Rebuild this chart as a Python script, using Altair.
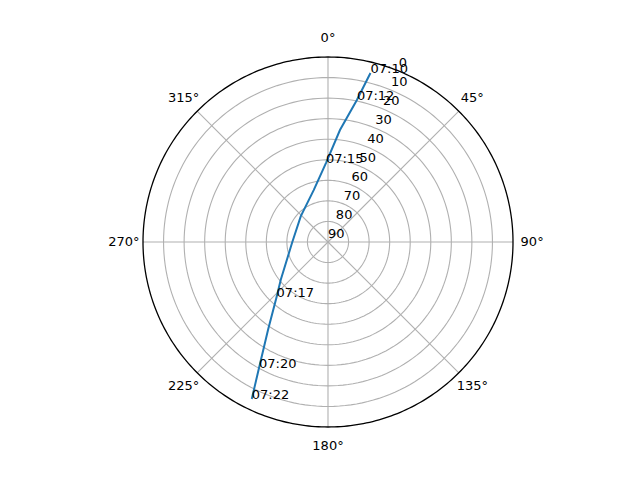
import altair as alt
import pandas as pd

# Satellite pass track (azimuth deg clockwise from north, elevation deg)
track_az = [14.1, 11.5, 6.1, 358.5, 344.6, 313.2, 269.5, 231.4, 223.1, 214.3, 208.7, 205.9]
track_el = [5.2, 19.5, 35.2, 51.6, 63.8, 71.8, 72.6, 60.6, 53.4, 38.2, 20.1, 5.1]

# Time labels
label_times = ["07:10", "07:12", "07:15", "07:17", "07:20", "07:22"]
label_az = [14.1, 11.5, 358.5, 223.1, 208.7, 205.9]
label_el = [5.2, 19.5, 51.6, 53.4, 20.1, 5.1]

# Axes
theta_ticks = [0, 45, 90, 135, 180, 225, 270, 315]
theta_labels = ["0°", "45°", "90°", "135°", "180°", "225°", "270°", "315°"]
r_ticks = [0, 10, 20, 30, 40, 50, 60, 70, 80, 90]  # elevation labels
ring_els = [10, 20, 30, 40, 50, 60, 70, 80]
R_LABEL_ANGLE = 22.5

FONT = "DejaVu Sans"
W = 370

xs = alt.Scale(domain=[-90, 90], nice=False, zero=False)
ys = alt.Scale(domain=[-90, 90], nice=False, zero=False)

def X(field):
    return alt.X(f"{field}:Q", scale=xs, axis=None)

def Y(field):
    return alt.Y(f"{field}:Q", scale=ys, axis=None)

rings_df = pd.DataFrame({"el": ring_els})
rings = (
    alt.Chart(rings_df)
    .transform_calculate(ang="sequence(0, 361, 2)")
    .transform_flatten(["ang"])
    .transform_calculate(
        x="(90 - datum.el) * sin(datum.ang * PI / 180)",
        y="(90 - datum.el) * cos(datum.ang * PI / 180)",
    )
    .mark_line(color="#b0b0b0", strokeWidth=1.1)
    .encode(x=X("x"), y=Y("y"), detail="el:N", order="ang:Q")
)

outer_df = pd.DataFrame({"el": [0]})
outer = (
    alt.Chart(outer_df)
    .transform_calculate(ang="sequence(0, 361, 1)")
    .transform_flatten(["ang"])
    .transform_calculate(
        x="(90 - datum.el) * sin(datum.ang * PI / 180)",
        y="(90 - datum.el) * cos(datum.ang * PI / 180)",
    )
    .mark_line(color="black", strokeWidth=1.3)
    .encode(x=X("x"), y=Y("y"), detail="el:N", order="ang:Q")
)

spokes_df = pd.DataFrame({"az": theta_ticks})
spokes = (
    alt.Chart(spokes_df)
    .transform_calculate(
        x0="0", y0="0",
        x1="90 * sin(datum.az * PI / 180)",
        y1="90 * cos(datum.az * PI / 180)",
    )
    .mark_rule(color="#b0b0b0", strokeWidth=1.1)
    .encode(x=X("x0"), y=Y("y0"), x2="x1:Q", y2="y1:Q")
)

theta_df = pd.DataFrame({"az": theta_ticks, "label": theta_labels})
theta_text = (
    alt.Chart(theta_df)
    .transform_calculate(
        x="99.3 * sin(datum.az * PI / 180)",
        y="99.3 * cos(datum.az * PI / 180)",
    )
    .mark_text(font=FONT, fontSize=13, color="black", align="center", baseline="middle")
    .encode(x=X("x"), y=Y("y"), text="label:N")
)

r_df = pd.DataFrame({"el": r_ticks, "label": [str(v) for v in r_ticks]})
r_text = (
    alt.Chart(r_df)
    .transform_calculate(
        x=f"(90 - datum.el) * sin({R_LABEL_ANGLE} * PI / 180)",
        y=f"(90 - datum.el) * cos({R_LABEL_ANGLE} * PI / 180)",
    )
    .mark_text(font=FONT, fontSize=13, color="black", align="left", baseline="bottom", dy=-1)
    .encode(x=X("x"), y=Y("y"), text="label:N")
)

track_df = pd.DataFrame({"az": track_az, "el": track_el, "i": list(range(len(track_az)))})
track = (
    alt.Chart(track_df)
    .transform_calculate(
        x="(90 - datum.el) * sin(datum.az * PI / 180)",
        y="(90 - datum.el) * cos(datum.az * PI / 180)",
    )
    .mark_line(color="#1f77b4", strokeWidth=2)
    .encode(x=X("x"), y=Y("y"), order="i:Q")
)

lab_df = pd.DataFrame({"az": label_az, "el": label_el, "t": label_times})
labels = (
    alt.Chart(lab_df)
    .transform_calculate(
        x="(90 - datum.el) * sin(datum.az * PI / 180)",
        y="(90 - datum.el) * cos(datum.az * PI / 180)",
    )
    .mark_text(font=FONT, fontSize=13, color="black", align="left", baseline="alphabetic")
    .encode(x=X("x"), y=Y("y"), text="t:N")
)

chart = (
    alt.layer(rings, spokes, outer, track, r_text, labels, theta_text)
    .properties(
        width=W,
        height=W,
        autosize=alt.AutoSizeParams(type="none"),
        padding={"left": 135, "top": 49, "right": 119, "bottom": 45},
        background="white",
    )
    .configure_view(strokeOpacity=0)
)

chart.save("out.html", embed_options={"renderer": "svg", "actions": False})
